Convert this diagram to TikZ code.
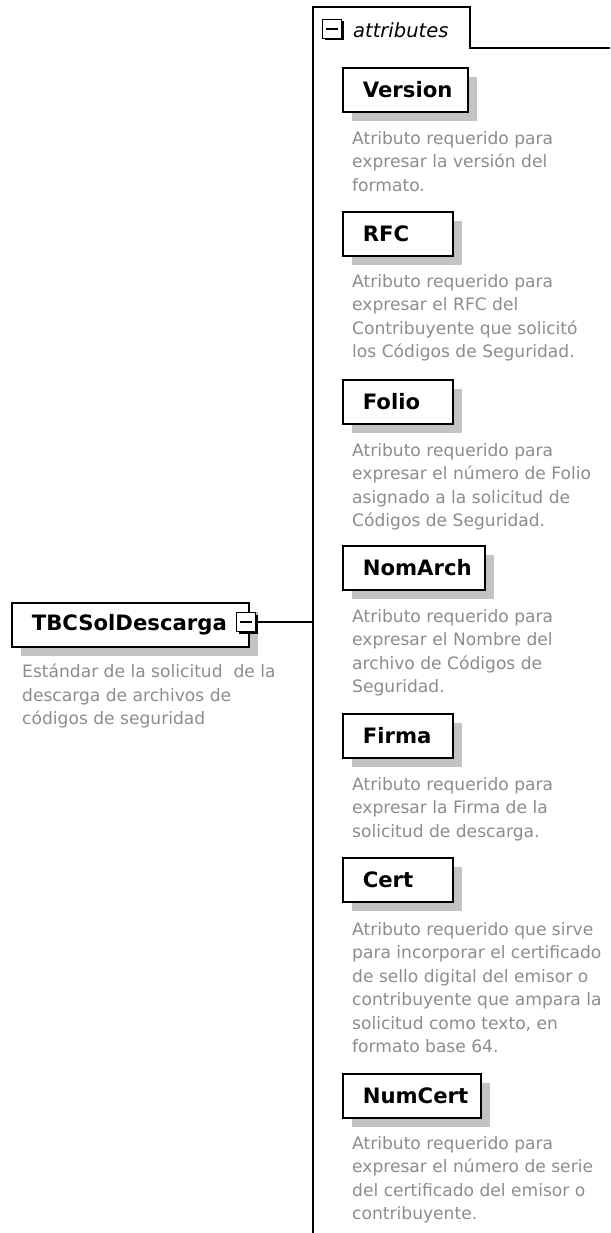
\documentclass[tikz,border=0pt]{standalone}
\usepackage{fontspec}
\setmainfont{DejaVu Sans}
\usetikzlibrary{shadows}
\definecolor{docgray}{RGB}{140,140,140}
\definecolor{shadegray}{RGB}{195,195,195}
\tikzset{
    attr/.style={draw, fill=white, line width=1.6pt, minimum height=44pt,
        inner xsep=20pt, inner ysep=0pt, align=left, anchor=north west,
        font=\fontsize{21.2}{24}\selectfont\bfseries,
        drop shadow={shadow xshift=9pt, shadow yshift=-9pt, fill=shadegray, opacity=1}},
    doc/.style={anchor=north west, align=left, inner sep=0pt, text=docgray,
        font=\fontsize{17.1}{23.5}\selectfont},
    pm/.style={draw, fill=white, line width=1.5pt, minimum size=19pt, inner sep=0pt,
        drop shadow={shadow xshift=2pt, shadow yshift=-2pt, fill=black, opacity=1},
        path picture={\draw [line width=1.4pt] ([xshift=3.5pt]path picture bounding box.west)
            -- ([xshift=-3.5pt]path picture bounding box.east);}}
}
\begin{document}
\begin{tikzpicture}[x=1pt, y=-1pt]
    \useasboundingbox (0,0) rectangle (610,1233);
    % attributes group
    \draw [line width=1.5pt] (313,1233) -- (313,7) -- (470,7) -- (470,48) -- (610,48);
    \node [pm] (attpm) at (332,29) {};
    \node [anchor=west, inner sep=0pt, font=\fontsize{19.5}{24}\selectfont\itshape] (atttitle) at (353,30) {attributes};
    % root element
    \node [attr, text width=197pt] (root) at (11,602) {TBCSolDescarga};
    \node [pm] (rootpm) at (246,622) {};
    \coordinate (grp) at (313,622);
    \draw [line width=1.5pt] (rootpm) -- (grp);
    \node [doc] (rootdoc) at (22,664) {Estándar de la solicitud\ \ de la\\descarga de archivos de\\códigos de seguridad};
    % attributes
    \node [attr, text width=85pt] (version) at (342,67) {Version};
    \node [doc] (versiondoc) at (352,131) {Atributo requerido para\\expresar la versión del\\formato.};
    \node [attr, text width=70pt] (rfc) at (342,211) {RFC};
    \node [doc] (rfcdoc) at (352,274) {Atributo requerido para\\expresar el RFC del\\Contribuyente que solicitó\\los Códigos de Seguridad.};
    \node [attr, text width=70pt] (folio) at (342,379) {Folio};
    \node [doc] (foliodoc) at (352,443) {Atributo requerido para\\expresar el número de Folio\\asignado a la solicitud de\\Códigos de Seguridad.};
    \node [attr, text width=102pt] (nomarch) at (342,545) {NomArch};
    \node [doc] (nomarchdoc) at (352,609) {Atributo requerido para\\expresar el Nombre del\\archivo de Códigos de\\Seguridad.};
    \node [attr, text width=70pt] (firma) at (342,713) {Firma};
    \node [doc] (firmadoc) at (352,777) {Atributo requerido para\\expresar la Firma de la\\solicitud de descarga.};
    \node [attr, text width=70pt] (cert) at (342,857) {Cert};
    \node [doc] (certdoc) at (352,922) {Atributo requerido que sirve\\para incorporar el certificado\\de sello digital del emisor o\\contribuyente que ampara la\\solicitud como texto, en\\formato base 64.};
    \node [attr, text width=98pt] (numcert) at (342,1073) {NumCert};
    \node [doc] (numcertdoc) at (352,1136) {Atributo requerido para\\expresar el número de serie\\del certificado del emisor o\\contribuyente.};
\end{tikzpicture}
\end{document}
